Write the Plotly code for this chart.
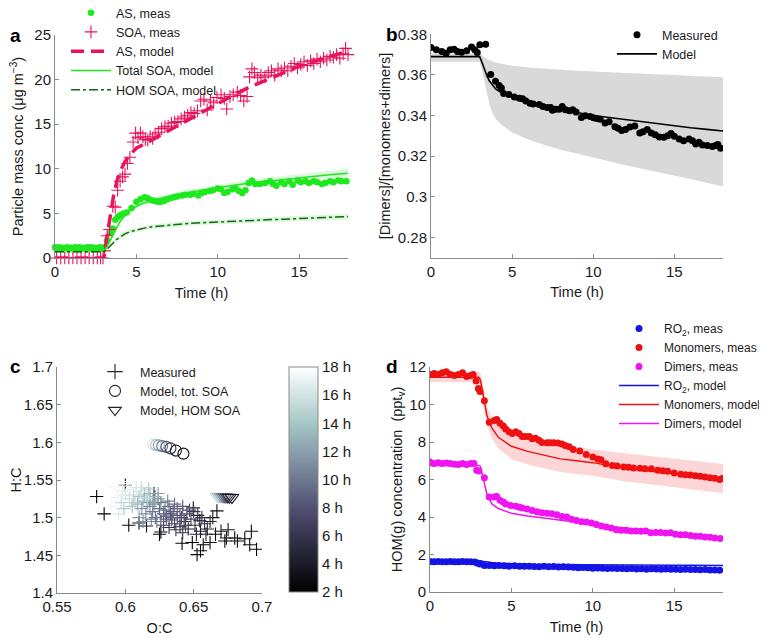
import plotly.graph_objects as go

FONT = "Liberation Sans, Arial, Helvetica, sans-serif"

# ---------------- Panel a data ----------------
a_as_t = [0.0, 0.25, 0.5, 0.75, 1.0, 1.25, 1.5, 1.75, 2.0, 2.25, 2.5, 2.75, 3.0,
          3.2, 3.4, 3.55, 3.7, 3.85, 4.0, 4.2, 4.4, 4.7, 5.0, 5.25, 5.5, 5.7, 5.9,
          6.1, 6.3, 6.5, 6.7, 6.9, 7.1, 7.3, 7.5, 7.8, 8.0, 8.3, 8.5, 8.8, 9.0,
          9.2, 9.5, 9.7, 10.0, 10.2, 10.4, 10.6, 10.9, 11.1, 11.3, 11.5, 11.7,
          11.9, 12.1, 12.3, 12.6, 12.9, 13.2, 13.4, 13.6, 13.9, 14.1, 14.4, 14.6,
          14.9, 15.1, 15.4, 15.6, 15.9, 16.1, 16.4, 16.6, 16.9, 17.1, 17.4, 17.6, 17.9]
a_as_v = [1.2, 1.2, 1.15, 1.2, 1.15, 1.2, 1.2, 1.15, 1.2, 1.2, 1.15, 1.2, 1.2,
          2.0, 2.8, 3.3, 4.3, 4.6, 4.8, 5.0, 5.1, 5.6, 6.3, 6.6, 6.8, 6.7, 6.5,
          6.4, 6.3, 6.3, 6.4, 6.6, 6.7, 6.8, 6.9, 7.0, 7.1, 7.1, 7.2, 7.0, 7.3,
          7.4, 7.5, 7.6, 7.8, 7.7, 7.3, 7.4, 7.7, 7.8, 7.5, 7.3, 7.6,
          8.4, 8.7, 8.3, 8.3, 8.4, 8.6, 8.3, 8.1, 8.5, 8.3, 8.6, 8.2,
          8.7, 8.5, 8.6, 8.4, 8.6, 8.5, 8.3, 8.4, 8.6, 8.5, 8.7, 8.6, 8.6]

a_soa_t = [0.1, 0.35, 0.6, 0.85, 1.1, 1.35, 1.6, 1.85, 2.1, 2.35, 2.6, 2.8, 2.95,
           3.05, 3.2, 3.35, 3.55, 3.7, 3.85, 4.0, 4.15, 4.3, 4.45, 4.6, 4.8, 4.95,
           5.1, 5.25, 5.4, 5.55, 5.7, 5.85, 6.0, 6.15, 6.35, 6.55, 6.75, 6.95,
           7.15, 7.35, 7.55, 7.75, 7.95, 8.15, 8.35, 8.55, 8.75, 8.95, 9.15, 9.35,
           9.55, 9.75, 9.95, 10.2, 10.4, 10.55, 10.75, 10.95, 11.2, 11.4, 11.6,
           11.8, 11.95, 12.1, 12.25, 12.45, 12.65, 12.9, 13.1, 13.3, 13.5, 13.7,
           13.9, 14.1, 14.3, 14.5, 14.7, 14.9, 15.1, 15.3, 15.5, 15.7, 15.9, 16.1,
           16.3, 16.5, 16.7, 16.9, 17.1, 17.3, 17.5, 17.7, 17.85, 18.0]
a_soa_v = [0.0, 0.0, 0.0, 0.0, 0.0, 0.0, 0.0, 0.0, 0.0, 0.0, 0.0, 0.0, 0.0,
           0.8, 2.5, 3.2, 5.8, 5.7, 7.6, 8.6, 9.1, 9.4, 10.6, 11.3, 13.0, 14.0,
           13.5, 14.0, 13.6, 13.3, 13.2, 13.6, 13.4, 13.9, 14.1, 14.5, 14.7, 14.8,
           15.1, 15.2, 15.3, 15.6, 15.8, 16.0, 16.3, 16.2, 16.5, 17.6, 17.8, 16.6,
           17.6, 17.4, 18.0, 18.3, 17.9, 16.7, 18.1, 18.3, 18.6, 18.2, 17.6,
           18.1, 20.3, 21.2, 20.8, 20.2, 20.5, 20.3, 20.8, 21.0, 20.5, 21.2,
           21.0, 21.3, 21.0, 21.5, 21.8, 21.3, 21.7, 22.0, 21.6, 22.1, 21.8, 22.3,
           22.0, 22.4, 22.2, 22.6, 22.5, 22.8, 22.4, 22.9, 23.5, 22.8]

a_mod_t = [0.0, 3.0, 3.2, 3.4, 3.6, 3.8, 4.0, 4.3, 4.6, 5.0, 5.5, 6.0, 7.0, 8.0,
           9.0, 10.0, 11.0, 12.0, 13.0, 14.0, 15.0, 16.0, 17.0, 18.0]
a_as_model = [0.0, 0.0, 2.5, 5.0, 7.0, 8.6, 9.7, 10.8, 11.6, 12.3, 12.8, 13.3, 14.3,
              15.3, 16.4, 17.4, 18.3, 19.2, 20.0, 20.8, 21.5, 22.1, 22.7, 23.2]
a_tot_model = [0.8, 0.8, 1.3, 2.0, 2.8, 3.5, 4.1, 4.8, 5.3, 5.8, 6.2, 6.5, 6.9,
               7.3, 7.6, 7.9, 8.15, 8.4, 8.6, 8.8, 9.0, 9.2, 9.35, 9.5]
a_tot_lo = [0.6, 0.6, 1.1, 1.7, 2.5, 3.2, 3.8, 4.5, 5.0, 5.5, 5.9, 6.2, 6.6,
            7.0, 7.3, 7.6, 7.8, 8.0, 8.2, 8.4, 8.6, 8.7, 8.85, 9.0]
a_tot_hi = [1.0, 1.0, 1.5, 2.3, 3.1, 3.8, 4.4, 5.1, 5.6, 6.1, 6.5, 6.8, 7.2,
            7.6, 7.9, 8.2, 8.5, 8.8, 9.0, 9.2, 9.4, 9.6, 9.8, 10.0]
a_hom_model = [0.7, 0.7, 1.0, 1.4, 1.8, 2.1, 2.35, 2.7, 2.95, 3.15, 3.35, 3.5, 3.7,
               3.85, 3.95, 4.05, 4.12, 4.2, 4.28, 4.35, 4.43, 4.5, 4.58, 4.65]
a_hom_lo = [0.55, 0.55, 0.85, 1.2, 1.6, 1.9, 2.1, 2.45, 2.7, 2.9, 3.1, 3.25, 3.45,
            3.6, 3.7, 3.8, 3.85, 3.93, 4.0, 4.07, 4.14, 4.2, 4.27, 4.33]
a_hom_hi = [0.85, 0.85, 1.15, 1.6, 2.0, 2.3, 2.6, 2.95, 3.2, 3.4, 3.6, 3.75, 3.95,
            4.1, 4.2, 4.3, 4.4, 4.48, 4.56, 4.64, 4.72, 4.8, 4.88, 4.97]

# ---------------- Panel b data ----------------
b_t = [0.0, 0.33, 0.67, 0.93, 1.18, 1.42, 1.63, 1.89, 2.2, 2.5, 2.7, 2.85, 3.01, 3.37,
       3.68, 3.98, 4.2, 4.34, 4.48, 4.8, 5.14, 5.45, 5.65, 5.85, 6.1, 6.3, 6.67, 6.9,
       7.17, 7.38, 7.48, 7.68, 7.9, 8.09, 8.29, 8.54, 8.74, 8.94, 9.27, 9.51, 9.82,
       10.02, 10.22, 10.43, 10.73, 10.98, 11.34, 11.54, 11.75, 11.99, 12.26, 12.56,
       12.87, 13.07, 13.33, 13.58, 13.82, 14.08, 14.35, 14.59, 14.8, 15.0, 15.3,
       15.57, 15.91, 16.12, 16.32, 16.52, 16.73, 17.03, 17.34, 17.54, 17.68, 17.85]
b_meas = [0.3735, 0.3724, 0.3715, 0.3707, 0.3724, 0.3727, 0.3715, 0.3712, 0.3719,
          0.3737, 0.3724, 0.3711, 0.3748, 0.3751,
          0.3602, 0.3569, 0.3548, 0.3535, 0.3509, 0.3504, 0.3491, 0.3485, 0.3483,
          0.3472, 0.3460, 0.3457, 0.3454, 0.3444, 0.3439, 0.3439, 0.3426, 0.3431,
          0.3431, 0.3444, 0.3428, 0.3423, 0.3428, 0.3418, 0.3390, 0.3399, 0.3395,
          0.3389, 0.3385, 0.3382, 0.3363, 0.3369, 0.3345, 0.3338, 0.3326, 0.3331,
          0.3343, 0.3348, 0.3314, 0.3320, 0.3331, 0.3314, 0.3305, 0.3294, 0.3293,
          0.3301, 0.3311, 0.3298, 0.3284, 0.3276, 0.3284, 0.3276, 0.3260, 0.3268,
          0.3255, 0.3252, 0.3247, 0.3252, 0.3257, 0.3239]
b_mod_t = [0.0, 3.0, 3.15, 3.3, 3.45, 3.6, 3.8, 4.0, 4.5, 5.0, 6.0, 7.0, 8.0, 9.0,
           10.0, 11.0, 12.0, 13.0, 14.0, 15.0, 16.0, 17.0, 18.0]
b_model = [0.369, 0.369, 0.366, 0.3625, 0.3595, 0.357, 0.3548, 0.353, 0.3505, 0.349,
           0.3465, 0.3448, 0.343, 0.3415, 0.340, 0.339, 0.3378, 0.3368, 0.3357,
           0.3348, 0.3340, 0.3332, 0.3324]
b_hi = [0.3705, 0.3705, 0.3695, 0.3685, 0.3678, 0.3672, 0.3666, 0.3661, 0.3652,
        0.3645, 0.3636, 0.3630, 0.3625, 0.3621, 0.3617, 0.3613, 0.3609, 0.3605,
        0.3601, 0.3598, 0.3595, 0.3592, 0.3589]
b_lo = [0.3665, 0.3665, 0.362, 0.356, 0.350, 0.3455, 0.341, 0.338, 0.3345, 0.3317,
        0.3282, 0.3255, 0.3232, 0.3212, 0.3195, 0.3175, 0.3155, 0.3138, 0.3122,
        0.3106, 0.3088, 0.3069, 0.3050]

# ---------------- Panel c data ----------------
c_oc = [0.579, 0.5845, 0.600, 0.6025, 0.610, 0.6155, 0.625, 0.626, 0.6415, 0.649,
        0.6525, 0.655, 0.657, 0.662, 0.666, 0.667, 0.664, 0.670, 0.6728, 0.674,
        0.6752, 0.680, 0.682, 0.6874, 0.6922, 0.691, 0.696, 0.6497, 0.6545, 0.621,
        0.628, 0.632, 0.636, 0.640, 0.643, 0.646, 0.648, 0.651, 0.653, 0.655,
        0.658, 0.660, 0.662, 0.638, 0.645, 0.634, 0.630, 0.650, 0.656, 0.642,
        0.637, 0.644, 0.652, 0.659, 0.647, 0.626, 0.633, 0.641,
        0.612, 0.615, 0.618, 0.620, 0.622, 0.625, 0.628, 0.630, 0.632, 0.635,
        0.638, 0.640, 0.616, 0.621, 0.626, 0.629, 0.634, 0.623, 0.619, 0.613,
        0.636, 0.631, 0.610, 0.624, 0.642,
        0.592, 0.594, 0.596, 0.598, 0.600, 0.601, 0.603, 0.604, 0.606, 0.607,
        0.608, 0.610, 0.611, 0.613, 0.614, 0.616, 0.618, 0.620, 0.622, 0.597,
        0.599, 0.605, 0.609, 0.595, 0.593, 0.602, 0.612, 0.617, 0.624, 0.590]
c_hc = [1.528, 1.505, 1.543, 1.490, 1.493, 1.489, 1.478, 1.481, 1.466, 1.467,
        1.451, 1.456, 1.464, 1.467, 1.478, 1.509, 1.500, 1.482, 1.469, 1.473,
        1.484, 1.473, 1.469, 1.472, 1.482, 1.464, 1.458, 1.513, 1.496, 1.532,
        1.490, 1.487, 1.492, 1.488, 1.495, 1.485, 1.498, 1.490, 1.503, 1.482,
        1.492, 1.485, 1.495, 1.500, 1.505, 1.497, 1.502, 1.508, 1.500, 1.480,
        1.484, 1.490, 1.478, 1.478, 1.510, 1.495, 1.505, 1.500,
        1.512, 1.505, 1.515, 1.508, 1.500, 1.512, 1.505, 1.498, 1.515, 1.508,
        1.512, 1.503, 1.520, 1.518, 1.520, 1.510, 1.500, 1.495, 1.498, 1.495,
        1.518, 1.522, 1.500, 1.525, 1.515,
        1.540, 1.527, 1.545, 1.535, 1.530, 1.542, 1.525, 1.537, 1.530, 1.520,
        1.540, 1.528, 1.535, 1.522, 1.530, 1.526, 1.532, 1.522, 1.528, 1.520,
        1.512, 1.515, 1.518, 1.505, 1.548, 1.548, 1.540, 1.538, 1.532, 1.515]
c_time = [2.5, 2.3, 3.0, 2.8, 3.2, 3.5, 2.6, 2.9, 2.4, 2.2,
          2.5, 3.1, 2.7, 3.3, 2.9, 3.0, 3.6, 3.4, 2.6, 3.2,
          3.8, 2.8, 3.1, 2.4, 2.7, 3.0, 2.3, 3.9, 3.5, 3.2,
          6.5, 5.5, 7.0, 5.0, 6.0, 4.5, 6.8, 5.2, 4.8, 4.2,
          5.8, 4.6, 5.0, 7.5, 7.2, 7.8, 7.9, 6.2, 5.5, 5.9,
          6.3, 6.6, 4.9, 4.4, 7.4, 7.6, 8.0, 6.9,
          11.5, 11.0, 10.5, 10.0, 9.5, 9.0, 8.5, 8.8, 9.2, 8.3,
          8.6, 8.2, 11.8, 10.8, 10.2, 9.7, 8.9, 9.9, 10.6, 11.2,
          9.4, 10.4, 11.6, 11.3, 8.1,
          17.5, 17.0, 17.8, 16.5, 16.0, 17.2, 15.5, 16.8, 15.0, 14.5,
          16.2, 14.0, 15.8, 13.5, 13.0, 14.8, 12.5, 12.2, 13.2, 15.2,
          14.2, 13.8, 12.8, 16.4, 18.0, 17.6, 15.4, 14.4, 12.1, 17.4]

c_tot_oc = [0.6185, 0.6205, 0.6225, 0.6245, 0.627, 0.630, 0.633, 0.637, 0.6425]
c_tot_hc = [1.597, 1.597, 1.5965, 1.596, 1.595, 1.594, 1.592, 1.589, 1.585]
c_tot_time = [18, 16, 14, 12, 10, 8, 6, 4, 3]
c_hom_oc = [0.6655, 0.667, 0.6685, 0.670, 0.6715, 0.673, 0.6745, 0.676, 0.678]
c_hom_hc = [1.5285, 1.5283, 1.528, 1.5278, 1.5276, 1.5274, 1.5272, 1.527, 1.5268]
c_hom_time = [18, 16, 14, 12, 10, 8, 6, 4, 3]
c_cbar_vals = [2, 4, 6, 8, 10, 12, 14, 16, 18]
c_cbar_text = ["2 h", "4 h", "6 h", "8 h", "10 h", "12 h", "14 h", "16 h", "18 h"]

# ---------------- Panel d data ----------------
d_mono_t = [0.0, 0.25, 0.5, 0.75, 1.0, 1.25, 1.5, 1.75, 2.0, 2.25, 2.5, 2.65,
            2.83, 2.97, 3.07, 3.34, 3.64, 3.95, 4.1, 4.3, 4.5, 4.65, 4.85, 5.06,
            5.26, 5.47, 5.67, 5.87, 6.1, 6.28, 6.48, 6.7, 6.88, 7.19, 7.39, 7.6,
            7.85, 8.1, 8.3, 8.55, 8.8, 9.2, 9.6, 10.0, 10.3, 10.5, 10.8, 11.2,
            11.5, 11.9, 12.2, 12.5, 12.9, 13.2, 13.6, 14.0, 14.3, 14.6, 15.0,
            15.4, 15.7, 16.0, 16.3, 16.6, 16.9, 17.2, 17.5, 17.8, 17.95]
d_mono_v = [11.6, 11.65, 11.6, 11.7, 11.75, 11.6, 11.55, 11.6, 11.7, 11.5, 11.55, 11.6,
            11.25, 10.85, 10.7, 10.2, 9.05, 9.15, 9.2, 9.0, 8.85, 8.7, 8.55, 8.45,
            8.55, 8.45, 8.3, 8.3, 8.3, 8.18, 8.2, 8.1, 7.98, 7.96, 7.96, 7.96,
            7.95, 7.9, 7.82, 7.75, 7.6, 7.52, 7.34, 7.2, 7.1, 7.05, 6.84, 6.75,
            6.72, 6.67, 6.65, 6.61, 6.6, 6.58, 6.58, 6.5, 6.47, 6.44, 6.35,
            6.28, 6.26, 6.24, 6.2, 6.17, 6.13, 6.1, 6.07, 6.0, 6.05]
d_dim_t = [0.0, 0.25, 0.5, 0.75, 1.0, 1.25, 1.5, 1.75, 2.0, 2.25, 2.5, 2.7,
           2.87, 3.0, 3.34, 3.64, 3.95, 4.1, 4.3, 4.5, 4.65, 4.95, 5.26, 5.47,
           5.67, 5.97, 6.28, 6.58, 6.88, 7.19, 7.49, 7.8, 8.1, 8.4, 8.7, 9.0,
           9.31, 9.61, 9.92, 10.22, 10.53, 10.83, 11.13, 11.44, 11.74, 12.05,
           12.35, 12.66, 12.96, 13.26, 13.57, 13.87, 14.17, 14.48, 14.78, 15.08,
           15.39, 15.69, 16.0, 16.3, 16.6, 16.9, 17.2, 17.5, 17.82]
d_dim_v = [6.93, 6.85, 6.9, 6.85, 6.88, 6.85, 6.82, 6.8, 6.85, 6.8, 6.85, 6.85,
           6.5, 6.45, 6.1, 5.07, 5.07, 5.1, 4.9, 4.8, 4.7, 4.62, 4.57, 4.53,
           4.48, 4.43, 4.35, 4.28, 4.23, 4.2, 4.18, 4.12, 4.03, 4.0, 3.88, 3.82,
           3.75, 3.73, 3.68, 3.6, 3.52, 3.47, 3.41, 3.32, 3.29, 3.29,
           3.25, 3.25, 3.24, 3.25, 3.16, 3.18, 3.18, 3.15, 3.16, 3.08,
           3.06, 3.06, 3.02, 2.97, 2.97, 2.93, 2.92, 2.88, 2.86]
d_ro2_t = [0.0, 0.25, 0.5, 0.75, 1.0, 1.25, 1.5, 1.75, 2.0, 2.25, 2.5, 2.75,
           2.9, 3.05, 3.34, 3.64, 3.95, 4.25, 4.55, 4.85, 5.2, 5.5, 5.8, 6.1,
           6.4, 6.7, 7.0, 7.3, 7.6, 7.9, 8.2, 8.5, 8.8, 9.1, 9.4, 9.7, 10.0,
           10.3, 10.6, 10.9, 11.2, 11.5, 11.8, 12.1, 12.4, 12.7, 13.0, 13.3,
           13.6, 13.9, 14.2, 14.5, 14.8, 15.1, 15.4, 15.7, 16.0, 16.3, 16.6,
           16.9, 17.2, 17.5, 17.8]
d_ro2_v = [1.63, 1.62, 1.63, 1.61, 1.62, 1.63, 1.61, 1.62, 1.63, 1.62, 1.61, 1.6,
           1.55, 1.5, 1.42, 1.42, 1.4, 1.42, 1.4, 1.38, 1.4, 1.38, 1.37, 1.38,
           1.36, 1.35, 1.37, 1.35, 1.36, 1.34, 1.35, 1.33, 1.32, 1.3, 1.31, 1.29, 1.27,
           1.28, 1.27, 1.26, 1.27, 1.25, 1.26, 1.24, 1.25, 1.23, 1.24, 1.22,
           1.24, 1.23, 1.22, 1.23, 1.21, 1.22, 1.2, 1.21, 1.2, 1.2, 1.19,
           1.2, 1.18, 1.17, 1.16]
d_mod_t = [0.0, 3.0, 3.1, 3.3, 3.5, 3.8, 4.2, 5.0, 6.0, 7.0, 8.0, 9.0, 10.0, 11.0,
           12.0, 13.0, 14.0, 15.0, 16.0, 17.0, 18.0]
d_mono_model = [11.45, 11.45, 11.3, 10.3, 9.4, 8.75, 8.25, 7.77, 7.5, 7.3, 7.1, 7.0,
                6.9, 6.75, 6.6, 6.5, 6.4, 6.3, 6.2, 6.12, 6.05]
d_mono_hi = [11.75, 11.75, 11.65, 10.8, 9.9, 9.35, 8.9, 8.5, 8.25, 8.05, 7.9, 7.75,
             7.6, 7.5, 7.4, 7.3, 7.2, 7.1, 7.0, 6.92, 6.83]
d_mono_lo = [11.2, 11.2, 11.0, 9.8, 8.9, 8.2, 7.65, 7.1, 6.8, 6.6, 6.4, 6.3,
             6.2, 6.05, 5.9, 5.8, 5.7, 5.6, 5.5, 5.4, 5.27]
d_dim_model = [6.75, 6.75, 6.7, 5.9, 5.2, 4.7, 4.45, 4.2, 4.05, 3.95, 3.85, 3.72,
               3.6, 3.5, 3.4, 3.3, 3.2, 3.12, 3.05, 2.97, 2.9]
d_ro2_model = [1.68, 1.68, 1.67, 1.63, 1.6, 1.57, 1.54, 1.5, 1.48, 1.47, 1.46, 1.455,
               1.45, 1.445, 1.44, 1.435, 1.43, 1.428, 1.425, 1.422, 1.42]

# ---------------- colours ----------------
GREEN = "#1ee81e"
MAGENTA_A = "#e8145a"
DKGREEN = "#116611"
BLUE = "#1414e6"
RED = "#ee1111"
PINK = "#f014f0"
AXC = "#8a8a8a"
BONE = [[0.0, "rgb(0,0,1)"], [0.375, "rgb(83,80,115)"],
        [0.75, "rgb(166,199,199)"], [1.0, "rgb(255,255,255)"]]

# page geometry: the page body adds an 8 px margin, so the figure is drawn
# 8 px smaller and every target page position is shifted by that offset
PAGE_W, PAGE_H, OFF = 767, 638, 8
W, H = PAGE_W - OFF, PAGE_H - OFF


def px_x(p):
    return (p - OFF) / W


def px_y(p):
    return 1 - (p - OFF) / H


def dx(a, b):
    return [px_x(a), px_x(b)]


def dy(top, bottom):
    return [px_y(bottom), px_y(top)]


fig = go.Figure()

# ---- panel a ----
fig.add_trace(go.Scatter(x=a_mod_t, y=a_tot_hi, mode="lines", line=dict(width=0),
                         showlegend=False, hoverinfo="skip", xaxis="x", yaxis="y"))
fig.add_trace(go.Scatter(x=a_mod_t, y=a_tot_lo, mode="lines", line=dict(width=0),
                         fill="tonexty", fillcolor="rgba(60,210,60,0.18)",
                         showlegend=False, hoverinfo="skip", xaxis="x", yaxis="y"))
fig.add_trace(go.Scatter(x=a_mod_t, y=a_hom_hi, mode="lines", line=dict(width=0),
                         showlegend=False, hoverinfo="skip", xaxis="x", yaxis="y"))
fig.add_trace(go.Scatter(x=a_mod_t, y=a_hom_lo, mode="lines", line=dict(width=0),
                         fill="tonexty", fillcolor="rgba(60,210,60,0.18)",
                         showlegend=False, hoverinfo="skip", xaxis="x", yaxis="y"))
fig.add_trace(go.Scatter(x=a_as_t, y=a_as_v, mode="markers", name="AS, meas",
                         marker=dict(color=GREEN, size=6.5), legend="legend",
                         xaxis="x", yaxis="y", cliponaxis=False))
fig.add_trace(go.Scatter(x=a_soa_t, y=a_soa_v, mode="markers", name="SOA, meas",
                         marker=dict(color=MAGENTA_A, size=9, symbol="cross-thin-open",
                                     line=dict(width=1.1, color=MAGENTA_A)),
                         legend="legend", xaxis="x", yaxis="y", cliponaxis=False))
fig.add_trace(go.Scatter(x=a_mod_t, y=a_as_model, mode="lines", name="AS, model",
                         line=dict(color=MAGENTA_A, width=3.5, dash="13px,7px"),
                         legend="legend", xaxis="x", yaxis="y", cliponaxis=False))
fig.add_trace(go.Scatter(x=a_mod_t, y=a_tot_model, mode="lines", name="Total SOA, model",
                         line=dict(color=GREEN, width=1.5), legend="legend",
                         xaxis="x", yaxis="y"))
fig.add_trace(go.Scatter(x=a_mod_t, y=a_hom_model, mode="lines", name="HOM SOA, model",
                         line=dict(color=DKGREEN, width=1.5, dash="dashdot"),
                         legend="legend", xaxis="x", yaxis="y"))

# ---- panel b ----
fig.add_trace(go.Scatter(x=b_mod_t, y=b_hi, mode="lines", line=dict(width=0),
                         showlegend=False, hoverinfo="skip", xaxis="x2", yaxis="y2"))
fig.add_trace(go.Scatter(x=b_mod_t, y=b_lo, mode="lines", line=dict(width=0),
                         fill="tonexty", fillcolor="#d9d9d9",
                         showlegend=False, hoverinfo="skip", xaxis="x2", yaxis="y2"))
fig.add_trace(go.Scatter(x=b_t, y=b_meas, mode="markers", name="Measured",
                         marker=dict(color="black", size=7), legend="legend2",
                         xaxis="x2", yaxis="y2"))
fig.add_trace(go.Scatter(x=b_mod_t, y=b_model, mode="lines", name="Model",
                         line=dict(color="black", width=1.6), legend="legend2",
                         xaxis="x2", yaxis="y2"))

# ---- panel c ----
order = sorted(range(len(c_time)), key=lambda i: c_time[i])
fig.add_trace(go.Scatter(x=[c_oc[i] for i in order], y=[c_hc[i] for i in order],
                         mode="markers", showlegend=False,
                         marker=dict(symbol="cross-thin-open", size=9.5,
                                     color=[c_time[i] for i in order],
                                     colorscale=BONE, cmin=2, cmax=18,
                                     line=dict(width=1.1),
                                     showscale=True,
                                     colorbar=dict(x=px_x(289), xanchor="left",
                                                   y=px_y(367), yanchor="top",
                                                   len=225 / H, lenmode="fraction",
                                                   thickness=29, thicknessmode="pixels",
                                                   outlinewidth=1, outlinecolor=AXC,
                                                   tickvals=c_cbar_vals, ticktext=c_cbar_text,
                                                   ticks="", xpad=0, ypad=0,
                                                   tickfont=dict(size=15, color="#1a1a1a"))),
                         xaxis="x3", yaxis="y3"))
fig.add_trace(go.Scatter(x=c_tot_oc, y=c_tot_hc, mode="markers", showlegend=False,
                         marker=dict(symbol="circle-open", size=11, color=c_tot_time,
                                     colorscale=BONE, cmin=2, cmax=18,
                                     line=dict(width=1.1)),
                         xaxis="x3", yaxis="y3"))
fig.add_trace(go.Scatter(x=c_hom_oc, y=c_hom_hc, mode="markers", showlegend=False,
                         marker=dict(symbol="triangle-down-open", size=12, color=c_hom_time,
                                     colorscale=BONE, cmin=2, cmax=18,
                                     line=dict(width=1.1)),
                         xaxis="x3", yaxis="y3"))
fig.add_trace(go.Scatter(x=[None], y=[None], mode="markers", name="Measured",
                         marker=dict(symbol="cross-thin-open", size=11, color="#222",
                                     line=dict(width=1.1)),
                         legend="legend3", xaxis="x3", yaxis="y3"))
fig.add_trace(go.Scatter(x=[None], y=[None], mode="markers", name="Model, tot. SOA",
                         marker=dict(symbol="circle-open", size=11, color="#222",
                                     line=dict(width=1.1)),
                         legend="legend3", xaxis="x3", yaxis="y3"))
fig.add_trace(go.Scatter(x=[None], y=[None], mode="markers", name="Model, HOM SOA",
                         marker=dict(symbol="triangle-down-open", size=11, color="#222",
                                     line=dict(width=1.1)),
                         legend="legend3", xaxis="x3", yaxis="y3"))

# ---- panel d ----
fig.add_trace(go.Scatter(x=d_mod_t, y=d_mono_hi, mode="lines", line=dict(width=0),
                         showlegend=False, hoverinfo="skip", xaxis="x4", yaxis="y4"))
fig.add_trace(go.Scatter(x=d_mod_t, y=d_mono_lo, mode="lines", line=dict(width=0),
                         fill="tonexty", fillcolor="rgba(245,120,120,0.3)",
                         showlegend=False, hoverinfo="skip", xaxis="x4", yaxis="y4"))
fig.add_trace(go.Scatter(x=d_ro2_t, y=d_ro2_v, mode="markers", name="RO<sub>2</sub>, meas",
                         marker=dict(color=BLUE, size=7), legend="legend4",
                         xaxis="x4", yaxis="y4"))
fig.add_trace(go.Scatter(x=d_mono_t, y=d_mono_v, mode="markers", name="Monomers, meas",
                         marker=dict(color=RED, size=7), legend="legend4",
                         xaxis="x4", yaxis="y4"))
fig.add_trace(go.Scatter(x=d_dim_t, y=d_dim_v, mode="markers", name="Dimers, meas",
                         marker=dict(color=PINK, size=7), legend="legend4",
                         xaxis="x4", yaxis="y4"))
fig.add_trace(go.Scatter(x=d_mod_t, y=d_ro2_model, mode="lines", name="RO<sub>2</sub>, model",
                         line=dict(color=BLUE, width=1.5), legend="legend4",
                         xaxis="x4", yaxis="y4"))
fig.add_trace(go.Scatter(x=d_mod_t, y=d_mono_model, mode="lines", name="Monomers, model",
                         line=dict(color=RED, width=1.5), legend="legend4",
                         xaxis="x4", yaxis="y4"))
fig.add_trace(go.Scatter(x=d_mod_t, y=d_dim_model, mode="lines", name="Dimers, model",
                         line=dict(color=PINK, width=1.5), legend="legend4",
                         xaxis="x4", yaxis="y4"))


def ax(**kw):
    base = dict(showline=True, linecolor=AXC, linewidth=1, ticks="inside", ticklen=4,
                tickcolor=AXC, showgrid=False, zeroline=False, automargin=False,
                tickfont=dict(size=15, color="#1a1a1a"),
                title_font=dict(size=14.5, color="#1a1a1a"))
    base.update(kw)
    return base


time_ticks = [0, 5, 10, 15]
a_yticks = [0, 5, 10, 15, 20, 25]
b_ticks = [0.28, 0.30, 0.32, 0.34, 0.36, 0.38]
b_tick_text = ["0.28", "0.3", "0.32", "0.34", "0.36", "0.38"]
c_xticks = [0.55, 0.6, 0.65, 0.7]
c_xtick_text = ["0.55", "0.6", "0.65", "0.7"]
c_yticks = [1.4, 1.45, 1.5, 1.55, 1.6, 1.65, 1.7]
c_ytick_text = ["1.4", "1.45", "1.5", "1.55", "1.6", "1.65", "1.7"]
d_yticks = [0, 2, 4, 6, 8, 10, 12]


def leg(xpage, ytop_page, size=12.5):
    return dict(x=px_x(xpage), y=px_y(ytop_page), bgcolor="rgba(0,0,0,0)",
                font=dict(family=FONT, size=size, color="#1a1a1a"),
                xanchor="left", yanchor="top", tracegroupgap=0, itemwidth=40,
                traceorder="normal")


fig.update_layout(
    width=W, height=H, margin=dict(l=0, r=0, t=0, b=0, autoexpand=False),
    paper_bgcolor="white", plot_bgcolor="white",
    font=dict(family=FONT, color="#1a1a1a"),
    xaxis=ax(domain=dx(55, 348), range=[0, 18], tickvals=time_ticks,
             title=dict(text="Time (h)", standoff=8), anchor="y"),
    yaxis=ax(domain=dy(35, 258), range=[0, 25], tickvals=a_yticks,
             title=dict(text="Particle mass conc (μg m<sup>−3</sup>)", standoff=10),
             anchor="x"),
    xaxis2=ax(domain=dx(431, 723), range=[0, 18], tickvals=time_ticks,
              title=dict(text="Time (h)", standoff=8), anchor="y2"),
    yaxis2=ax(domain=dy(34.3, 257.7), range=[0.27, 0.38], tickvals=b_ticks,
              ticktext=b_tick_text,
              title=dict(text="[Dimers]/[monomers+dimers]", standoff=3), anchor="x2"),
    xaxis3=ax(domain=dx(57, 262), range=[0.55, 0.7], tickvals=c_xticks,
              ticktext=c_xtick_text,
              title=dict(text="O:C", standoff=8), anchor="y3"),
    yaxis3=ax(domain=dy(367, 593), range=[1.4, 1.7], tickvals=c_yticks,
              ticktext=c_ytick_text,
              title=dict(text="H:C", standoff=5), anchor="x3"),
    xaxis4=ax(domain=dx(430, 723), range=[0, 18], tickvals=time_ticks,
              title=dict(text="Time (h)", standoff=8), anchor="y4"),
    yaxis4=ax(domain=dy(367, 592), range=[0, 12], tickvals=d_yticks,
              title=dict(text="HOM(g) concentration  (ppt<sub>v</sub>)", standoff=3),
              anchor="x4"),
    legend=leg(66, -2),
    legend2=leg(612, 20),
    legend3=leg(90, 357),
    legend4=leg(614, 314, size=12),
    showlegend=True,
)

for lab, px, py in [("a", 8, 36), ("b", 384, 35), ("c", 8, 366), ("d", 384, 366)]:
    fig.add_annotation(text="<b>%s</b>" % lab, x=px_x(px), y=px_y(py), xref="paper",
                       yref="paper", xanchor="left", yanchor="middle", showarrow=False,
                       font=dict(size=19, color="black", family=FONT))

fig.write_html("out.html")
